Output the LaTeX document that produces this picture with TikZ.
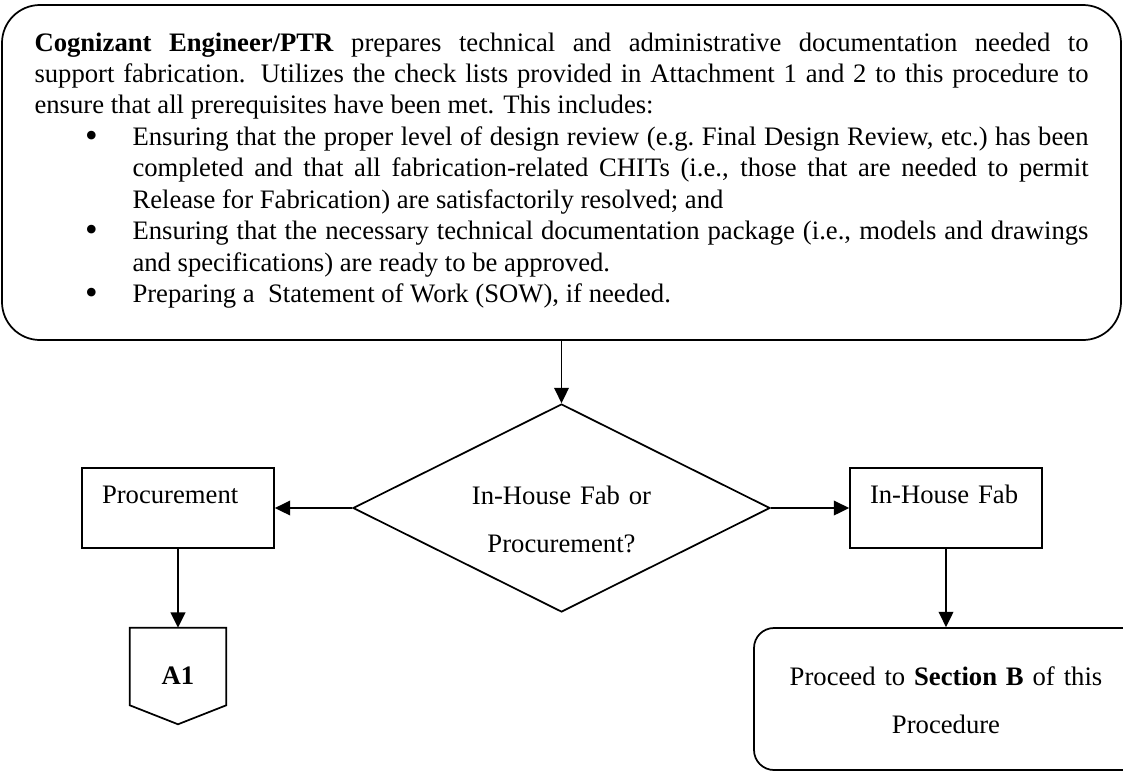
\documentclass[tikz,border=0pt]{standalone}
\usepackage{fontspec}
\setmainfont{Liberation Serif}
\usetikzlibrary{shapes.geometric, arrows.meta, positioning, calc}
\tikzstyle{taskbox} = [rectangle, rounded corners=28.5pt, draw=black, line width=1.3pt, inner xsep=24.375pt, inner ysep=0pt, text width=790.5pt, align=justify, font=\fontsize{20}{23.6}\selectfont]
\tikzstyle{decision} = [diamond, aspect=2, draw=black, line width=1.3pt, inner sep=0pt, minimum width=312.75pt, minimum height=156pt, text width=160pt, align=center, text height=20pt, text depth=26pt, font=\fontsize{20}{36}\selectfont]
\tikzstyle{process} = [rectangle, draw=black, line width=1.3pt, inner xsep=15pt, inner ysep=0pt, text width=114pt, align=left, text height=26.25pt, text depth=33.75pt, font=\fontsize{20}{23.25}\selectfont]
\tikzstyle{outcome} = [rectangle, rounded corners=15pt, draw=black, line width=1.3pt, inner sep=0pt, text width=303pt, align=center, text height=42.75pt, text depth=63.75pt, font=\fontsize{20}{36}\selectfont]
\tikzstyle{offpage} = [rectangle, inner sep=0pt, minimum width=72pt, minimum height=72pt, font=\bfseries\fontsize{20}{23.25}\selectfont]
\tikzstyle{arrow} = [line width=1.3pt, -{Triangle[length=11.5pt, width=11pt]}]
\newcommand{\listdot}{\raisebox{-1.5pt}{\fontsize{27}{27}\selectfont\textbullet}}
\begin{document}
\begin{tikzpicture}[x=0.75pt, y=-0.75pt]
\useasboundingbox (0,0) rectangle (1123,772);

% Preparation step
\node (prep) [taskbox, text height=34.5pt, text depth=216.75pt] at (561.5,172.5) {\textbf{Cognizant Engineer/PTR} prepares technical and administrative documentation needed to\linebreak support fabrication.  Utilizes the check lists provided in Attachment 1 and 2 to this procedure to\linebreak ensure that all prerequisites have been met.  This includes:
\begin{list}{\listdot}{\setlength{\leftmargin}{73.5pt}\setlength{\labelsep}{26pt}\setlength{\topsep}{0pt}\setlength{\partopsep}{0pt}\setlength{\itemsep}{0pt}\setlength{\parsep}{0pt}}
\item Ensuring that the proper level of design review (e.g.\ Final Design Review, etc.)\ has been\linebreak completed and that all fabrication-related CHITs (i.e., those that are needed to permit\linebreak Release for Fabrication) are satisfactorily resolved; and
\item Ensuring that the necessary technical documentation package (i.e., models and drawings\linebreak and specifications) are ready to be approved.
\item Preparing a\ \ Statement of Work (SOW), if needed.
\end{list}};

% Decision
\node (choice) [decision] at (561.5,508) {In-House Fab or\\Procurement?};

% Branches
\node (procure) [process] at (178,508) {Procurement};
\node (inhouse) [process] at (946,508) {In-House Fab};

% Outcomes
\node (a1) [offpage] at (178,676) {A1};
\draw [line width=1.3pt] (a1.north west) -- (a1.north east) -- ([yshift=14.25pt]a1.south east) -- (a1.south) -- ([yshift=14.25pt]a1.south west) -- cycle;
\node (proceed) [outcome] at (956,699) {Proceed to \textbf{Section B} of this\rule{15pt}{0pt}\\Procedure\rule{15pt}{0pt}};

% Arrows
\draw [arrow] (prep) -- (choice);
\draw [arrow] (choice) -- (procure);
\draw [arrow] (choice) -- (inhouse);
\draw [arrow] (procure) -- (a1);
\draw [arrow] (inhouse) -- (inhouse |- proceed.north);

\end{tikzpicture}
\end{document}
